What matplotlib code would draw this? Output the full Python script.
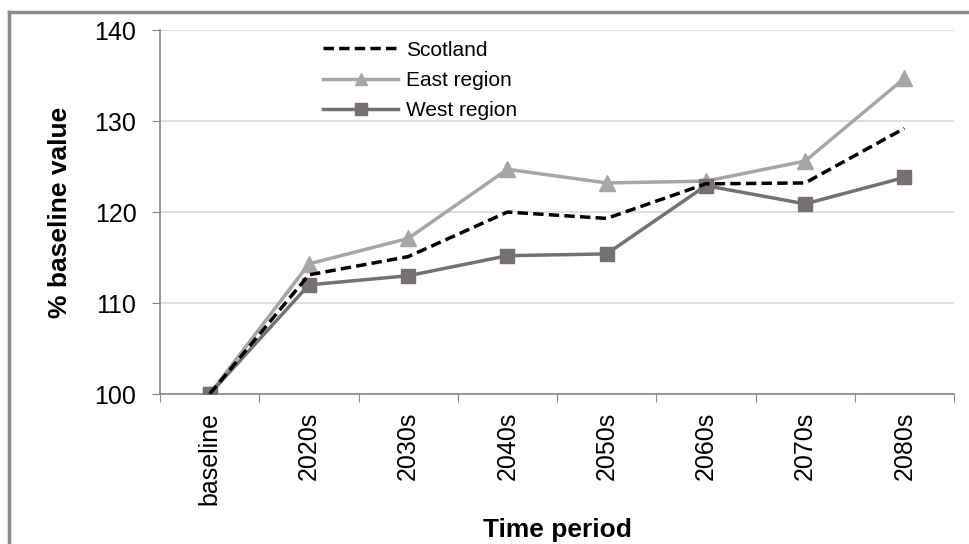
import matplotlib.pyplot as plt
from matplotlib.lines import Line2D

plt.rcParams['font.family'] = ['Liberation Sans', 'DejaVu Sans']

periods = ['baseline', '2020s', '2030s', '2040s', '2050s', '2060s', '2070s', '2080s']
scotland = [100, 113.1, 115.1, 120.0, 119.3, 123.1, 123.2, 129.2]
east = [100, 114.3, 117.1, 124.7, 123.2, 123.4, 125.6, 134.7]
west = [100, 112.0, 113.0, 115.2, 115.4, 122.9, 120.9, 123.8]

fig = plt.figure(figsize=(9.7, 5.44), dpi=100)
ax = fig.add_axes([0.165, 0.2757, 0.8185, 0.669])

# figure border (top and left only visible in the reference)
fig.add_artist(Line2D([9 / 970, 9 / 970], [0, 1 - 12 / 544], transform=fig.transFigure,
                      color='#8c8c8c', lw=2.5))
fig.add_artist(Line2D([9 / 970, 1], [1 - 12 / 544, 1 - 12 / 544], transform=fig.transFigure,
                      color='#8c8c8c', lw=2.5))

x = list(range(len(periods)))
ax.plot(x, scotland, color='black', lw=2.5, ls=(0, (3, 1.5)), label='Scotland', zorder=4)
ax.plot(x, east, color='#a6a6a6', lw=2.5, marker='^', markersize=11, label='East region', zorder=3)
ax.plot(x, west, color='#767171', lw=2.5, marker='s', markersize=10, label='West region', zorder=3)

ax.set_xlim(-0.5, len(periods) - 0.5)
ax.set_ylim(100, 140)
ax.set_yticks([100, 110, 120, 130, 140])
ax.grid(axis='y', color='#d9d9d9', lw=1.2)
ax.set_axisbelow(True)

# category ticks between groups, labels centred
ax.set_xticks([i - 0.5 for i in range(len(periods) + 1)])
ax.set_xticklabels([])
ax.set_xticks(x, minor=True)
ax.set_xticklabels(periods, minor=True, rotation=90, fontsize=18)
ax.tick_params(axis='x', which='minor', length=0, pad=13)
ax.tick_params(axis='x', which='major', length=6, color='#868686')
ax.tick_params(axis='y', length=6, color='#868686', labelsize=18, pad=11)

for s in ['top', 'right']:
    ax.spines[s].set_visible(False)
for s in ['left', 'bottom']:
    ax.spines[s].set_color('#868686')
    ax.spines[s].set_linewidth(1.2)

ax.set_ylabel('% baseline value', fontsize=19, fontweight='bold', labelpad=16)
ax.set_xlabel('Time period', fontsize=19, fontweight='bold', labelpad=9)

ax.legend(loc='upper left', bbox_to_anchor=(0.314, 0.96), bbox_transform=fig.transFigure,
          frameon=False, fontsize=15, handlelength=3.6, handletextpad=0.35, labelspacing=0.55,
          markerscale=0.85)

fig.savefig('out.png', dpi=100)
